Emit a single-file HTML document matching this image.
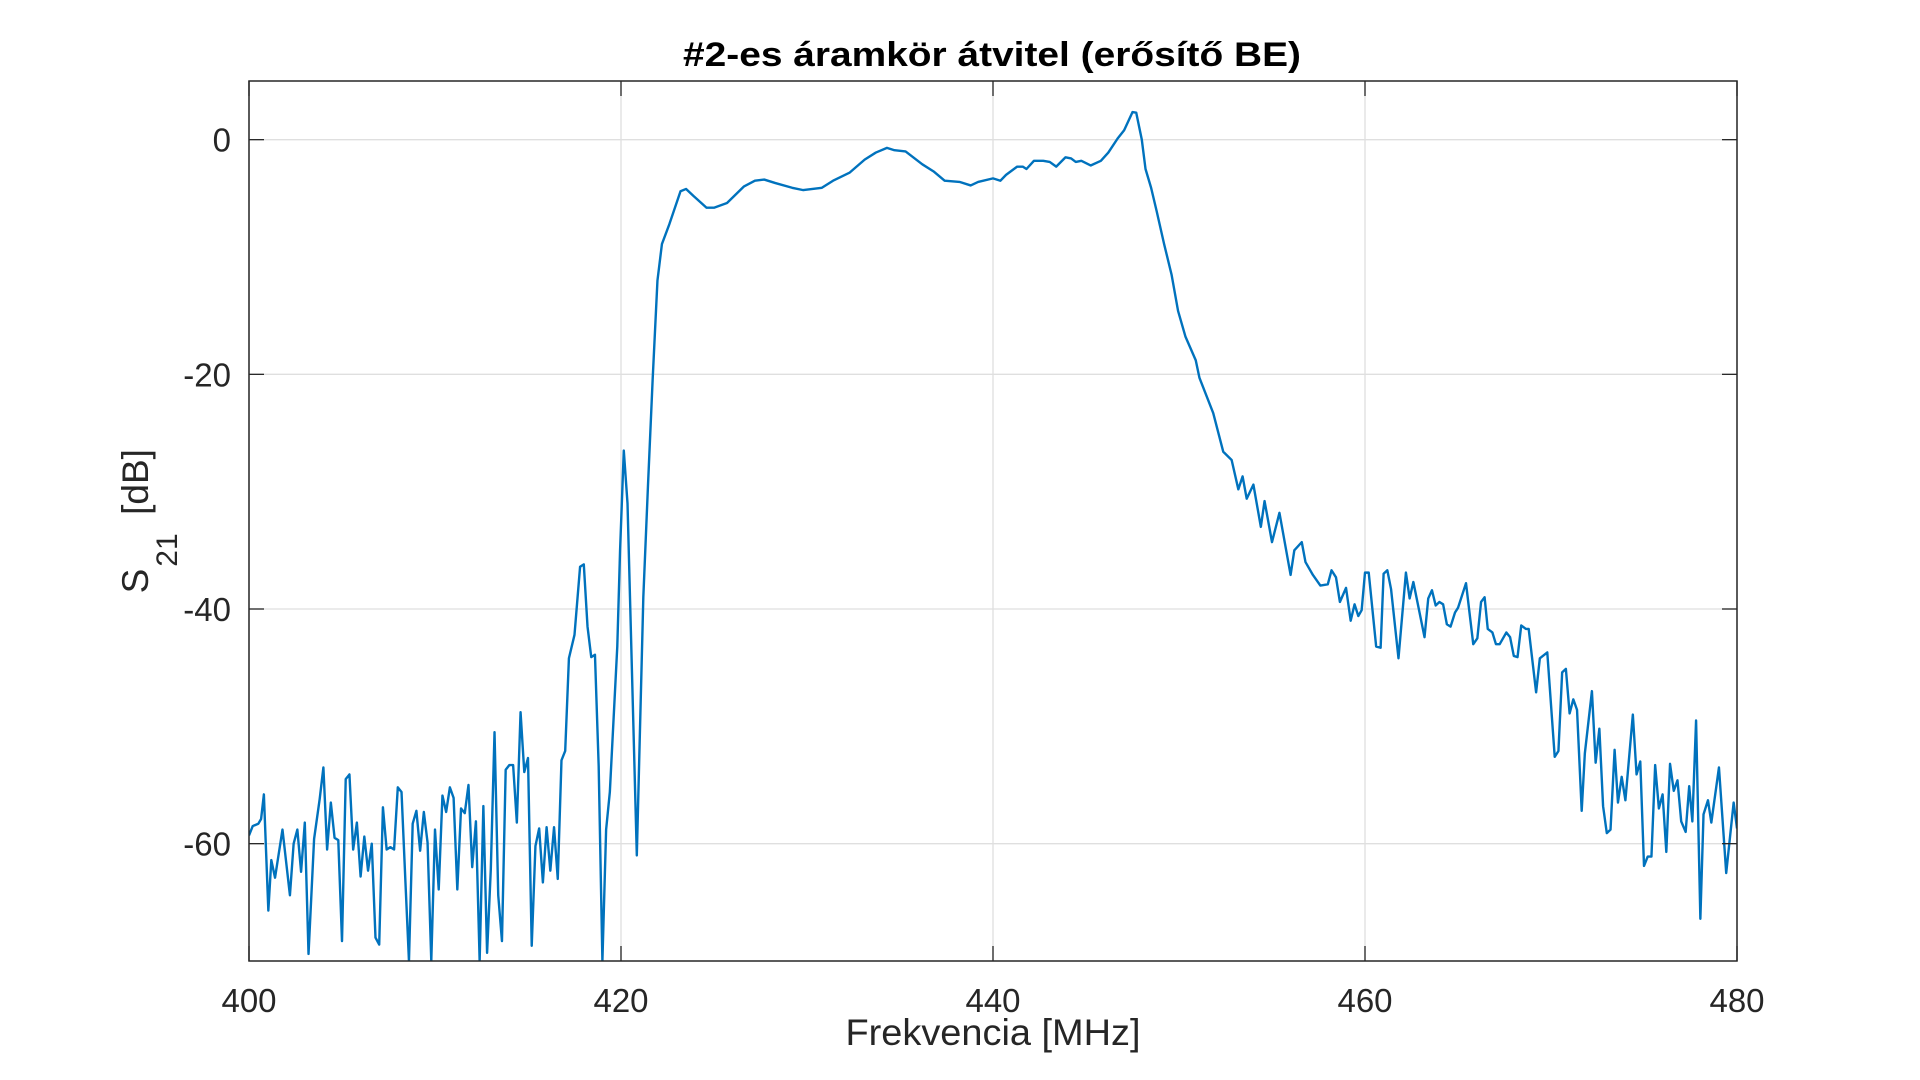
<!DOCTYPE html>
<html><head><meta charset="utf-8"><style>
html,body{margin:0;padding:0;background:#fff;}
svg{display:block;font-family:"Liberation Sans",Arial,sans-serif;}
</style></head><body>
<svg id="chart" width="1920" height="1080" viewBox="0 0 1920 1080" xmlns="http://www.w3.org/2000/svg">
<rect x="0" y="0" width="1920" height="1080" fill="#fff"/>
<g id="grid"></g>
<g id="series"></g>
<g id="axes"></g>
<text x="992" y="66" text-anchor="middle" font-size="34" font-weight="bold" fill="#000" textLength="618" lengthAdjust="spacingAndGlyphs">#2-es áramkör átvitel (erősítő BE)</text>
<text x="993" y="1045" text-anchor="middle" font-size="37" fill="#262626" textLength="295" lengthAdjust="spacingAndGlyphs">Frekvencia [MHz]</text>
<g fill="#262626">
<text transform="translate(148,581) rotate(-90)" text-anchor="middle" font-size="37">S</text>
<text transform="translate(177,550) rotate(-90)" text-anchor="middle" font-size="30">21</text>
<text transform="translate(148,482) rotate(-90)" text-anchor="middle" font-size="37">[dB]</text>
</g>
</svg>
<script>
const freq = [400,400.2,400.5,400.65,400.8,401.04,401.2,401.4,401.8,402.2,402.4,402.6,402.8,403.0,403.2,403.5,403.8,404.0,404.2,404.4,404.6,404.8,405.0,405.2,405.4,405.6,405.8,406.0,406.2,406.4,406.6,406.8,407.0,407.2,407.4,407.6,407.8,408.0,408.2,408.4,408.6,408.8,409.0,409.2,409.4,409.6,409.8,410.0,410.2,410.4,410.6,410.8,411.0,411.2,411.4,411.6,411.8,412.0,412.2,412.4,412.6,412.8,413.0,413.2,413.4,413.6,413.8,414.0,414.2,414.4,414.6,414.8,415.0,415.2,415.4,415.6,415.8,416.0,416.2,416.4,416.6,416.8,417.0,417.2,417.5,417.8,418.0,418.2,418.4,418.6,418.8,419.0,419.2,419.4,419.8,419.95,420.15,420.35,420.85,421.2,421.45,421.7,421.96,422.2,422.6,423.2,423.5,423.9,424.6,425.0,425.7,426.6,427.2,427.7,428.3,429.2,429.8,430.8,431.4,432.3,433.1,433.7,434.3,434.7,435.3,436.2,436.8,437.4,438.2,438.8,439.2,440.0,440.4,440.7,441.3,441.6,441.8,442.2,442.7,443.05,443.4,443.9,444.2,444.45,444.75,445.25,445.8,446.2,446.7,447.05,447.5,447.7,448.0,448.2,448.5,448.8,449.2,449.6,449.95,450.35,450.9,451.1,451.84,452.38,452.83,453.19,453.42,453.64,454.0,454.4,454.6,455.0,455.4,456.0,456.2,456.6,456.8,457.2,457.6,458.0,458.2,458.44,458.65,458.98,459.23,459.44,459.64,459.82,460.0,460.2,460.6,460.84,461.0,461.2,461.4,461.8,462.2,462.4,462.6,463.2,463.4,463.6,463.8,464.0,464.2,464.4,464.6,464.84,465.0,465.43,465.82,466.04,466.24,466.43,466.6,466.85,467.04,467.24,467.6,467.8,468.0,468.2,468.4,468.65,468.8,469.2,469.4,469.8,470.2,470.4,470.6,470.8,471.0,471.2,471.4,471.65,471.82,472.2,472.4,472.6,472.8,473.0,473.2,473.42,473.6,473.8,474.0,474.4,474.6,474.8,475.0,475.2,475.4,475.6,475.8,476.0,476.2,476.4,476.6,476.8,477.0,477.24,477.43,477.6,477.8,478.03,478.2,478.44,478.62,479.03,479.42,479.82,480];
const s21dB = [-59.3,-58.5,-58.3,-57.9,-55.8,-65.7,-61.4,-62.9,-58.8,-64.4,-60,-58.8,-62.4,-58.2,-69.4,-59.6,-56.2,-53.5,-60.5,-56.5,-59.5,-59.7,-68.3,-54.5,-54.1,-60.5,-58.2,-62.8,-59.4,-62.3,-60,-68,-68.6,-56.9,-60.5,-60.3,-60.5,-55.2,-55.6,-62.9,-70,-58.3,-57.2,-60.6,-57.3,-59.9,-70,-58.8,-63.9,-55.9,-57.3,-55.2,-56.1,-63.9,-57,-57.4,-55,-62,-58.1,-70,-56.8,-69.3,-62.2,-50.5,-64.4,-68.3,-53.7,-53.3,-53.3,-58.2,-48.8,-53.9,-52.7,-68.7,-60.2,-58.7,-63.3,-58.6,-62.3,-58.6,-63,-52.9,-52.1,-44.2,-42.2,-36.4,-36.2,-41.5,-44.1,-43.9,-53.4,-70,-58.8,-55.6,-43.2,-35,-26.5,-31,-61,-39,-29.5,-20.5,-12.0,-8.9,-7.2,-4.4,-4.2,-4.8,-5.8,-5.8,-5.4,-4.0,-3.5,-3.4,-3.7,-4.1,-4.3,-4.1,-3.5,-2.8,-1.7,-1.1,-0.7,-0.9,-1.0,-2.1,-2.7,-3.5,-3.6,-3.9,-3.6,-3.3,-3.5,-3.0,-2.3,-2.3,-2.5,-1.8,-1.8,-1.9,-2.3,-1.5,-1.6,-1.9,-1.8,-2.2,-1.8,-1.1,0.1,0.8,2.35,2.3,0,-2.5,-4.1,-6.1,-8.9,-11.5,-14.6,-16.8,-18.8,-20.3,-23.3,-26.6,-27.3,-29.8,-28.7,-30.6,-29.4,-33.0,-30.8,-34.3,-31.8,-37.1,-35.0,-34.3,-36.0,-37.1,-38.0,-37.9,-36.7,-37.3,-39.4,-38.2,-41.0,-39.6,-40.6,-40.1,-36.9,-36.9,-43.2,-43.3,-37,-36.7,-38.3,-44.2,-36.9,-39.1,-37.7,-42.4,-39.1,-38.4,-39.7,-39.4,-39.6,-41.3,-41.5,-40.3,-39.9,-37.8,-43,-42.5,-39.4,-39,-41.7,-42,-43,-43,-42,-42.4,-44,-44.1,-41.4,-41.7,-41.7,-47.1,-44.2,-43.7,-52.6,-52.1,-45.4,-45.1,-48.9,-47.7,-48.6,-57.2,-52.3,-47,-53.1,-50.2,-56.8,-59.1,-58.8,-52,-56.5,-54.3,-56.3,-49,-54.1,-53,-61.9,-61.1,-61.1,-53.3,-57,-55.8,-60.7,-53.2,-55.5,-54.6,-58.1,-59,-55.1,-58.1,-49.5,-66.4,-57.5,-56.3,-58.2,-53.5,-62.5,-56.5,-58.7];
const xTicks = [400,420,440,460,480];
const yTicks = [0,-20,-40,-60];
const xTickLabels = ["400","420","440","460","480"];
const yTickLabels = ["0","-20","-40","-60"];

const L=249,T=81,R=1737,B=961, XMIN=400,XMAX=480,YMIN=-70,YMAX=5;
const NS='http://www.w3.org/2000/svg';
function xs(v){return L+(v-XMIN)/(XMAX-XMIN)*(R-L);}
function ys(v){return B-(v-YMIN)/(YMAX-YMIN)*(B-T);}
function mk(tag,attrs,parent){const e=document.createElementNS(NS,tag);for(const k in attrs)e.setAttribute(k,attrs[k]);parent.appendChild(e);return e;}
const grid=document.getElementById('grid'),axes=document.getElementById('axes'),series=document.getElementById('series');
xTicks.forEach((v,i)=>{
  const x=xs(v);
  const g=mk('line',{x1:x,y1:T,x2:x,y2:B,stroke:'#dfdfdf','stroke-width':1.3},grid);
  
  
  const t1=mk('line',{x1:x,y1:B,x2:x,y2:B-15,stroke:'#262626','stroke-width':1.3},axes);
  
  
  const t2=mk('line',{x1:x,y1:T,x2:x,y2:T+15,stroke:'#262626','stroke-width':1.3},axes);
  
  
  const lb=mk('text',{x:x,y:1012,'text-anchor':'middle','font-size':33,fill:'#262626'},axes);
  lb.textContent=xTickLabels[i];
  
  
});
yTicks.forEach((v,i)=>{
  const y=ys(v);
  const g=mk('line',{x1:L,y1:y,x2:R,y2:y,stroke:'#dfdfdf','stroke-width':1.3},grid);
  
  
  const t1=mk('line',{x1:L,y1:y,x2:L+15,y2:y,stroke:'#262626','stroke-width':1.3},axes);
  
  
  const t2=mk('line',{x1:R,y1:y,x2:R-15,y2:y,stroke:'#262626','stroke-width':1.3},axes);
  
  
  const lb=mk('text',{x:231,y:y+12,'text-anchor':'end','font-size':33,fill:'#262626'},axes);
  lb.textContent=yTickLabels[i];
  
  
});
const box=mk('rect',{x:L,y:T,width:R-L,height:B-T,fill:'none',stroke:'#262626','stroke-width':1.5},axes);


const clip=mk('clipPath',{id:'pc'},document.getElementById('chart'));
mk('rect',{x:L,y:T,width:R-L,height:B-T},clip);
let d='';
freq.forEach((f,i)=>{d+=(i?'L':'M')+xs(f).toFixed(2)+','+ys(s21dB[i]).toFixed(2);});
const p=mk('path',{d:d,fill:'none',stroke:'#0072BD','stroke-width':2.4,'stroke-linejoin':'round','clip-path':'url(#pc)'},series);


</script>
</body></html>
